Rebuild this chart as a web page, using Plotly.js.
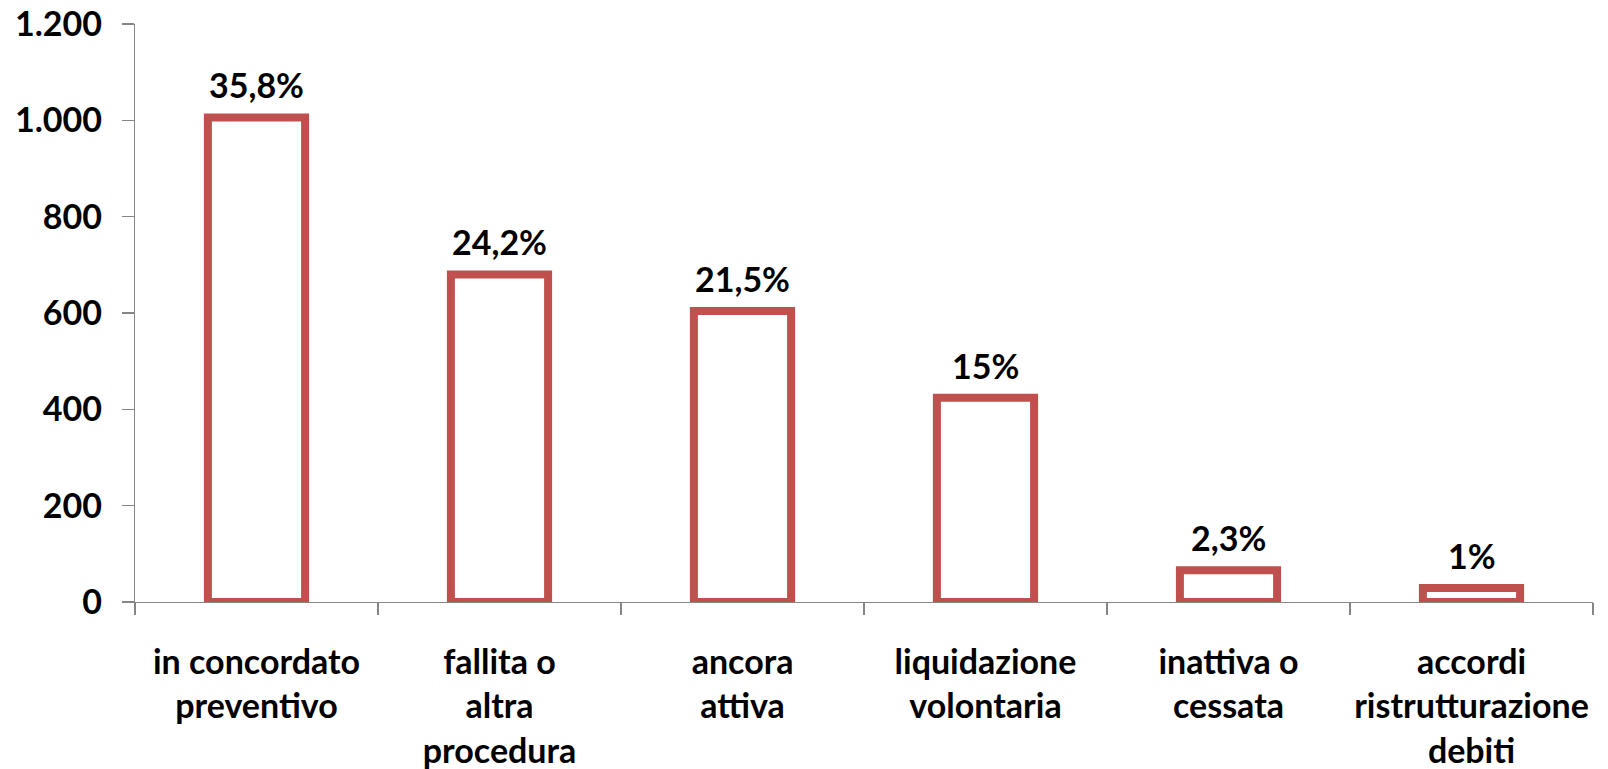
<!DOCTYPE html>
<html>
<head>
<meta charset="utf-8">
<script src="https://cdn.plot.ly/plotly-3.0.1.min.js"></script>
<style>
html,body{margin:0;padding:0;background:#fff;}
#chart{width:1608px;height:769px;}
</style>
</head>
<body>
<div id="chart"></div>
<script>
var categories = [
  "in concordato<br>preventivo",
  "fallita o<br>altra<br>procedura",
  "ancora<br>attiva",
  "liquidazione<br>volontaria",
  "inattiva o<br>cessata",
  "accordi<br>ristrutturazione<br>debiti"
];
var values = [1006, 680, 604, 424, 66, 29];
var percentLabels = ["35,8%", "24,2%", "21,5%", "15%", "2,3%", "1%"];
var yTickVals = [0, 200, 400, 600, 800, 1000, 1200];

var FONT = "Lato, 'Open Sans', sans-serif";
var FS = 34;
var RED = "#C0504D";
var AXIS = "#868686";

var trace = {
  type: "bar",
  x: categories,
  y: values,
  width: 0.4,
  marker: {color: "#FFFFFF", line: {color: RED, width: 8}},
  hoverinfo: "none"
};

var annotations = categories.map(function (c, i) {
  return {
    x: c, y: values[i], xref: "x", yref: "y",
    text: "<b>" + percentLabels[i] + "</b>",
    showarrow: false, yanchor: "bottom", yshift: 10,
    font: {family: FONT, size: FS, color: "#000"}
  };
});

var layout = {
  width: 1608, height: 769,
  margin: {l: 135, r: 15, t: 24, b: 167},
  paper_bgcolor: "#fff", plot_bgcolor: "#fff",
  separators: ",.",
  showlegend: false,
  font: {family: FONT, size: FS, color: "#000", weight: "bold"},
  xaxis: {
    type: "category",
    tickangle: 0,
    showline: true, linecolor: AXIS, linewidth: 1.3,
    ticks: "outside", tickson: "boundaries", ticklen: 12, tickcolor: AXIS, tickwidth: 1.3,
    tickfont: {family: FONT, size: FS, color: "#000", weight: "bold"},
    ticklabelstandoff: 30,
    showgrid: false, zeroline: false
  },
  yaxis: {
    range: [0, 1200],
    tickvals: yTickVals,
    tickformat: ",d",
    showline: true, linecolor: AXIS, linewidth: 1.3,
    ticks: "outside", ticklen: 12, tickcolor: AXIS, tickwidth: 1.3,
    tickfont: {family: FONT, size: FS, color: "#000", weight: "bold"},
    ticklabelstandoff: 13,
    showgrid: false, zeroline: false
  },
  annotations: annotations
};

Plotly.newPlot("chart", [trace], layout, {staticPlot: true, displayModeBar: false});
</script>
</body>
</html>
